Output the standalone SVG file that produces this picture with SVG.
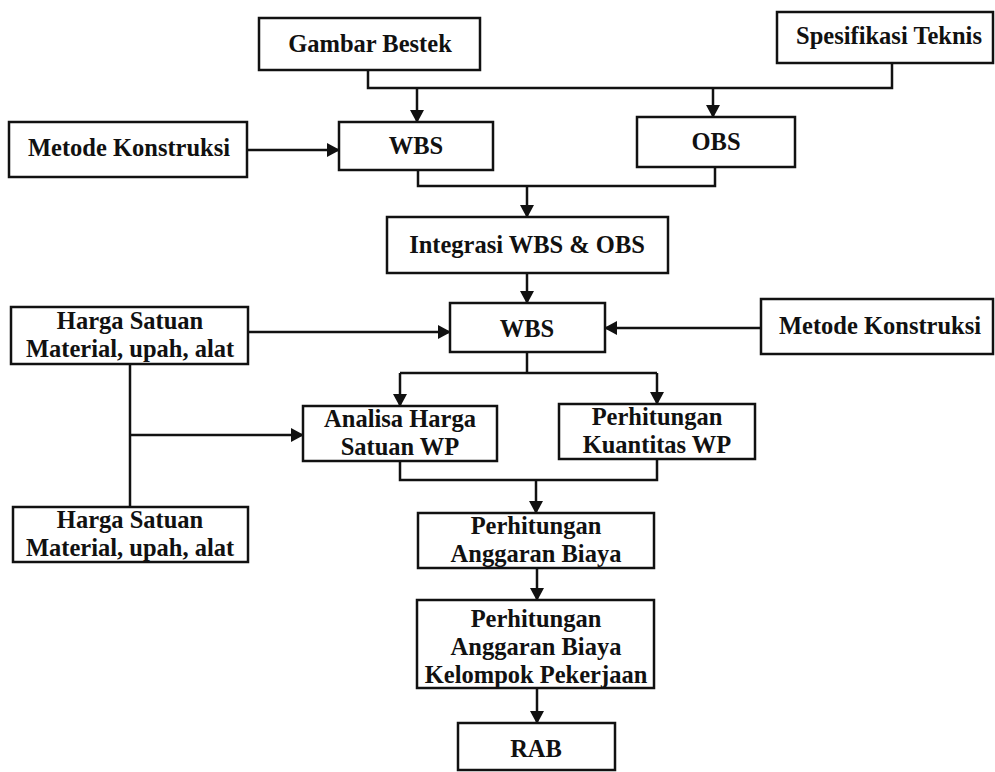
<svg xmlns="http://www.w3.org/2000/svg" width="995" height="772" viewBox="0 0 995 772">
<defs>
<marker id="ah" markerWidth="13" markerHeight="14" refX="12" refY="7" orient="auto" markerUnits="userSpaceOnUse">
<path d="M0,0 L13,7 L0,14 Z" fill="#111"/>
</marker>
<style>
.box{fill:#fff;stroke:#111;stroke-width:2.5}
.t{font-family:"Liberation Serif","Times New Roman",serif;font-weight:bold;font-size:24.5px;fill:#111;text-anchor:middle}
.c{fill:none;stroke:#111;stroke-width:2.5}
.a{fill:none;stroke:#111;stroke-width:2.5;marker-end:url(#ah)}
</style>
</defs>
<rect width="995" height="772" fill="#fff"/>
<g id="connectors">
<path class="c" d="M368,70 V88 H892 V63"/>
<path class="a" d="M417,88 V122"/>
<path class="a" d="M713,88 V117"/>
<path class="a" d="M247,150 H339"/>
<path class="c" d="M418,170 V186 H715 V167"/>
<path class="a" d="M527,186 V217"/>
<path class="a" d="M527,273 V303"/>
<path class="a" d="M248,332 H450"/>
<path class="a" d="M761,328 H605"/>
<path class="c" d="M400,373 H657"/>
<path class="c" d="M527,352 V373"/>
<path class="a" d="M400,373 V406"/>
<path class="a" d="M657,373 V404"/>
<path class="c" d="M400,461 V480 H657 V459"/>
<path class="a" d="M536,480 V513"/>
<path class="c" d="M130,364 V507"/>
<path class="a" d="M130,435 H303"/>
<path class="a" d="M537,568 V600"/>
<path class="a" d="M537,688 V723"/>
</g>
<g id="gambar-bestek"><rect class="box" x="259" y="18" width="221" height="52"/><text class="t" x="370" y="52">Gambar Bestek</text></g>
<g id="spesifikasi-teknis"><rect class="box" x="777" y="12" width="216" height="51"/><text class="t" x="889" y="44">Spesifikasi Teknis</text></g>
<g id="metode-konstruksi-1"><rect class="box" x="9" y="122" width="238" height="55"/><text class="t" x="129" y="156">Metode Konstruksi</text></g>
<g id="wbs-1"><rect class="box" x="339" y="122" width="154" height="48"/><text class="t" x="416" y="154">WBS</text></g>
<g id="obs"><rect class="box" x="637" y="117" width="158" height="50"/><text class="t" x="716" y="150">OBS</text></g>
<g id="integrasi"><rect class="box" x="387" y="217" width="281" height="56"/><text class="t" x="527" y="253">Integrasi WBS &amp; OBS</text></g>
<g id="harga-satuan-1"><rect class="box" x="11" y="307" width="237" height="57"/><text class="t" x="130" y="329">Harga Satuan</text><text class="t" x="130" y="357">Material, upah, alat</text></g>
<g id="wbs-2"><rect class="box" x="450" y="303" width="155" height="49"/><text class="t" x="527" y="337">WBS</text></g>
<g id="metode-konstruksi-2"><rect class="box" x="761" y="299" width="232" height="55"/><text class="t" x="880" y="334">Metode Konstruksi</text></g>
<g id="analisa-harga"><rect class="box" x="303" y="406" width="194" height="55"/><text class="t" x="400" y="427">Analisa Harga</text><text class="t" x="400" y="455">Satuan WP</text></g>
<g id="perhitungan-kuantitas"><rect class="box" x="559" y="404" width="196" height="55"/><text class="t" x="657" y="425">Perhitungan</text><text class="t" x="657" y="453">Kuantitas WP</text></g>
<g id="harga-satuan-2"><rect class="box" x="13" y="507" width="235" height="55"/><text class="t" x="130" y="528">Harga Satuan</text><text class="t" x="130" y="556">Material, upah, alat</text></g>
<g id="anggaran-biaya"><rect class="box" x="418" y="513" width="236" height="55"/><text class="t" x="536" y="534">Perhitungan</text><text class="t" x="536" y="562">Anggaran Biaya</text></g>
<g id="anggaran-kelompok"><rect class="box" x="417" y="600" width="237" height="88"/><text class="t" x="536" y="627">Perhitungan</text><text class="t" x="536" y="655">Anggaran Biaya</text><text class="t" x="536" y="683">Kelompok Pekerjaan</text></g>
<g id="rab"><rect class="box" x="458" y="723" width="157" height="47"/><text class="t" x="536" y="757">RAB</text></g>
</svg>
